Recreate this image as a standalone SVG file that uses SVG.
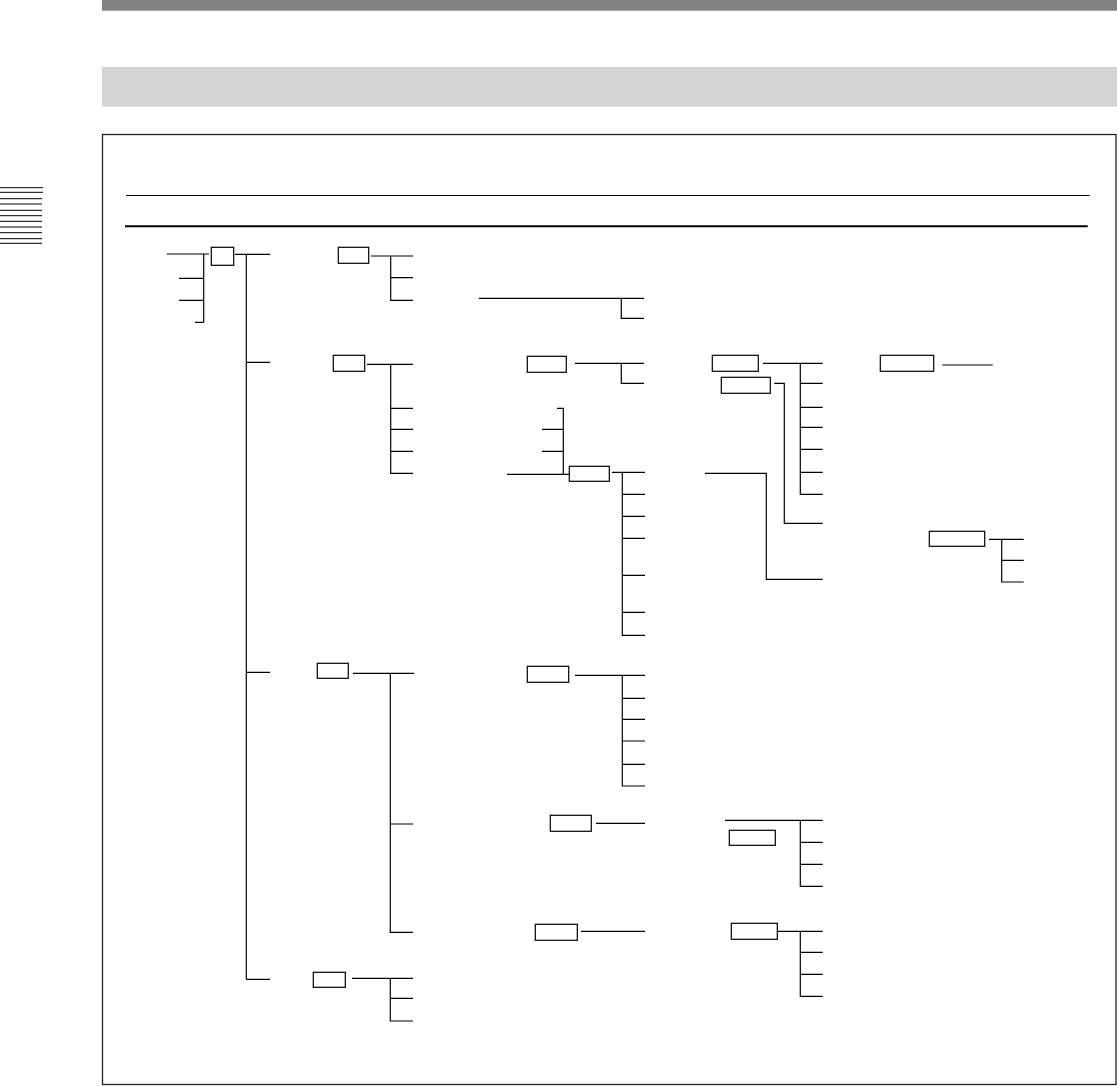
<svg xmlns="http://www.w3.org/2000/svg" width="1117" height="1086" viewBox="0 0 1117 1086">
<style>
.c{fill:none;stroke:#000;stroke-width:1.2}
.n{fill:#fff;stroke:#000;stroke-width:1.2}
.r{stroke:#000;stroke-width:1}
</style>
<rect width="1117" height="1086" fill="#fff"/>
<rect x="102" y="0" width="1015" height="10.7" fill="#818286"/>
<rect x="102" y="67" width="1015" height="39.7" fill="#d3d4d6"/>
<rect x="102.5" y="134.5" width="1013.5" height="950" fill="none" stroke="#222" stroke-width="1.3"/>
<line x1="126" y1="195.5" x2="1089.7" y2="195.5" stroke="#000" stroke-width="1"/>
<line x1="125" y1="226.3" x2="1087.7" y2="226.3" stroke="#000" stroke-width="2"/>
<g id="side-rules">
<line class="r" x1="0" y1="187.7" x2="43" y2="187.7"/>
<line class="r" x1="0" y1="192.3" x2="43" y2="192.3"/>
<line class="r" x1="0" y1="198.7" x2="42" y2="198.7"/>
<line class="r" x1="0" y1="204" x2="42" y2="204"/>
<line class="r" x1="0" y1="210.3" x2="42" y2="210.3"/>
<line class="r" x1="0" y1="215.7" x2="42" y2="215.7"/>
<line class="r" x1="0" y1="221.3" x2="42" y2="221.3"/>
<line class="r" x1="0" y1="227" x2="42" y2="227"/>
<line class="r" x1="0" y1="232.7" x2="42" y2="232.7"/>
<line class="r" x1="0" y1="238.7" x2="42" y2="238.7"/>
<line class="r" x1="0" y1="243.3" x2="42" y2="243.3"/>
</g>
<g id="nodes">
<g id="root"><rect class="n" x="211.3" y="247.3" width="22.4" height="18"/></g>
<g id="n1"><rect class="n" x="338.3" y="247.3" width="30.4" height="16"/></g>
<g id="n2"><rect class="n" x="333.3" y="355.3" width="31.4" height="16"/></g>
<g id="n3"><rect class="n" x="317.3" y="663.3" width="31" height="15"/></g>
<g id="n4"><rect class="n" x="313.3" y="972.3" width="32" height="15"/></g>
<g id="n21"><rect class="n" x="527.3" y="356.3" width="39" height="16"/></g>
<g id="n22"><rect class="n" x="569.3" y="466.3" width="40" height="15"/></g>
<g id="n23"><rect class="n" x="712.3" y="355.3" width="46" height="16"/></g>
<g id="n24"><rect class="n" x="721.3" y="377.3" width="49" height="16"/></g>
<g id="n25"><rect class="n" x="880.3" y="355.3" width="53.4" height="16"/></g>
<g id="n26"><rect class="n" x="929.3" y="531.3" width="55.4" height="15"/></g>
<g id="n31"><rect class="n" x="527.3" y="666.3" width="41.4" height="16"/></g>
<g id="n32"><rect class="n" x="550.3" y="815.3" width="41" height="16"/></g>
<g id="n33"><rect class="n" x="535.3" y="924.3" width="42" height="16"/></g>
<g id="n34"><rect class="n" x="729.3" y="830.3" width="46" height="15"/></g>
<g id="n35"><rect class="n" x="731.3" y="923.3" width="46" height="16"/></g>
</g>
<g id="connectors" class="c">
<path d="M166.7 254H209 M203.7 254V322.3 M179 278.3H203.7 M179 300.3H203.7 M195 322.3H203.7"/>
<path d="M235 254.3H270 M246.3 254.3V979.3 M246.3 362.3H270 M246.3 672.3H270 M246.3 979.3H270"/>
<path d="M371 256H413 M390.7 256V300.3H413 M390.7 277.7H413"/>
<path d="M367 364.3H413 M390.7 364.3V473.3H413 M390.7 408.3H413 M390.7 429.3H413 M390.7 451.3H413"/>
<path d="M479 298.3H644 M621.3 298.3V318.3H644"/>
<path d="M575 363.3H644 M621.3 363.3V383.3H644"/>
<path d="M557 408.3H563.3V474.3 M542 429.3H563.3 M542 451.3H563.3 M507 474.3H569.3"/>
<path d="M612 472.3H645 M622.3 472.3V635.3H645 M622.3 494.3H645 M622.3 516.3H645 M622.3 538.3H645 M622.3 575.3H645 M622.3 612.3H645"/>
<path d="M763 363.3H822.7 M800.3 363.3V494.3H822.7 M800.3 383.3H822.7 M800.3 407.3H822.7 M800.3 427.3H822.7 M800.3 449.3H822.7 M800.3 472.3H822.7"/>
<path d="M774.3 383.3H784.3V523.3H822.7"/>
<path d="M705 473.3H766.3V579.3H822.7"/>
<path d="M942.3 365H992.7"/>
<path d="M989 539.3H1023.7 M1001.7 539.3V582H1023.7 M1001.7 560.3H1023.7"/>
<path d="M353 673.3H414 M390.3 673.3V932.3H413 M390.3 824H413"/>
<path d="M575 675.3H645 M622.3 675.3V786H645 M622.3 698.3H645 M622.3 719.3H645 M622.3 741H645 M622.3 764.3H645"/>
<path d="M596 823.3H645"/>
<path d="M581 931.3H645"/>
<path d="M352 978.3H413 M390.3 978.3V1021H413 M390.3 998.3H413"/>
<path d="M725 820.3H822.7 M800.3 820.3V886.3H822.7 M800.3 842.3H822.7 M800.3 864.3H822.7"/>
<path d="M777.3 931.3H822.7 M800.3 931.3V996.3H822.7 M800.3 952.3H822.7 M800.3 974.3H822.7"/>
</g>
</svg>
